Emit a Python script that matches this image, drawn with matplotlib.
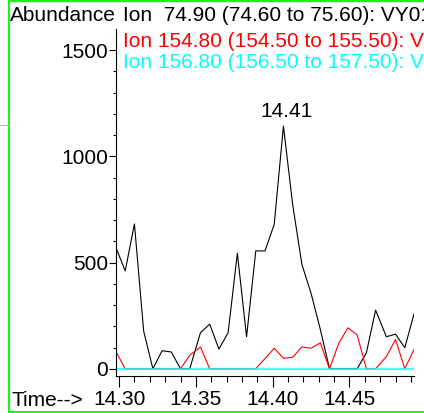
import matplotlib
matplotlib.use("Agg")
import matplotlib.pyplot as plt
from matplotlib.lines import Line2D
from matplotlib.ticker import MultipleLocator, FixedLocator

plt.rcParams['font.family'] = ['Liberation Sans', 'DejaVu Sans']

# scan times (min) and extracted ion abundances
times = [14.298, 14.304, 14.310, 14.316, 14.322, 14.328, 14.334, 14.340,
         14.346, 14.353, 14.359, 14.365, 14.371, 14.377, 14.383, 14.389,
         14.395, 14.401, 14.407, 14.413, 14.419, 14.425, 14.431, 14.437,
         14.443, 14.449, 14.455, 14.461, 14.467, 14.474, 14.480, 14.486,
         14.492]
ion_74 = [570, 461, 682, 178, 0, 85, 79, 0,
          0, 170, 210, 93, 170, 544, 151, 555,
          555, 680, 1143, 774, 492, 355, 186, 0,
          0, 0, 0, 75, 276, 151, 163, 99,
          258]
ion_154 = [80, 0, 0, 0, 0, 0, 0, 0,
           64, 102, 0, 0, 0, 0, 0, 0,
           48, 97, 49, 54, 103, 97, 122, 0,
           120, 193, 159, 0, 0, 57, 138, 0,
           91]
ion_156 = [0] * len(times)

labels = ["Ion  74.90 (74.60 to 75.60): VY0101.D\\data.ms",
          "Ion 154.80 (154.50 to 155.50): VY0101.D\\data.ms",
          "Ion 156.80 (156.50 to 157.50): VY0101.D\\data.ms"]
colors = ['black', '#ff0000', '#00ffff']
peak_label = "14.41"

W, H = 424, 413
FS = 15
fig = plt.figure(figsize=(W / 100, H / 100), dpi=100)
ax = fig.add_axes([116 / W, 1 - 376 / H, 298 / W, 347 / H])

ax.plot(times, ion_74, color=colors[0], lw=0.8)
ax.plot(times, ion_154, color=colors[1], lw=0.8)
ax.plot(times, ion_156, color=colors[2], lw=1.6, alpha=0.75)

ipk = ion_74.index(max(ion_74))
ax.annotate(peak_label, (times[ipk], ion_74[ipk]), xytext=(2, 3.5),
            textcoords='offset points', ha='center', va='bottom', fontsize=FS)

ax.set_xlim(times[0], times[-1])
ax.set_ylim(-34, 1600)
for s in ['top', 'right']:
    ax.spines[s].set_visible(False)
for s in ['left', 'bottom']:
    ax.spines[s].set_linewidth(0.8)

ax.xaxis.set_major_locator(FixedLocator([14.30, 14.35, 14.40, 14.45]))
ax.xaxis.set_minor_locator(MultipleLocator(0.01))
ax.set_xticklabels(['14.30', '14.35', '14.40', '14.45'])
ax.yaxis.set_major_locator(FixedLocator([0, 500, 1000, 1500]))
ax.yaxis.set_minor_locator(FixedLocator(range(0, 1600, 100)))
ax.tick_params(axis='x', which='major', length=8, width=0.8, pad=2, labelsize=FS)
ax.tick_params(axis='x', which='minor', length=4.5, width=0.8)
ax.tick_params(axis='y', which='major', length=5, width=0.8, pad=0.5, labelsize=FS)
ax.tick_params(axis='y', which='minor', length=2, width=0.8)

# header and axis captions
fig.text(10 / W, 1 - 20.7 / H, "Abundance", fontsize=FS, va='baseline')
for lab, c, yb in zip(labels, colors, [20.7, 46.7, 68.3]):
    fig.text(123.3 / W, 1 - yb / H, lab, color=c, fontsize=FS, va='baseline')
fig.text(11.7 / W, 1 - 406 / H, "Time-->", fontsize=FS, va='baseline')

# frame lines
green = '#22ee22'
fig.add_artist(Line2D([9 / W, 9 / W], [0, 1], color=green, lw=1.6))
fig.add_artist(Line2D([9 / W, 1], [1 - 0.8 / H, 1 - 0.8 / H], color=green, lw=1.6))
fig.add_artist(Line2D([9 / W, 1], [1 - 411.7 / H, 1 - 411.7 / H], color=green, lw=1.4))
fig.add_artist(Line2D([0, 9 / W], [1 - 125.3 / H, 1 - 125.3 / H], color='#99cc99', lw=0.8))

fig.savefig('out.png', dpi=100)
